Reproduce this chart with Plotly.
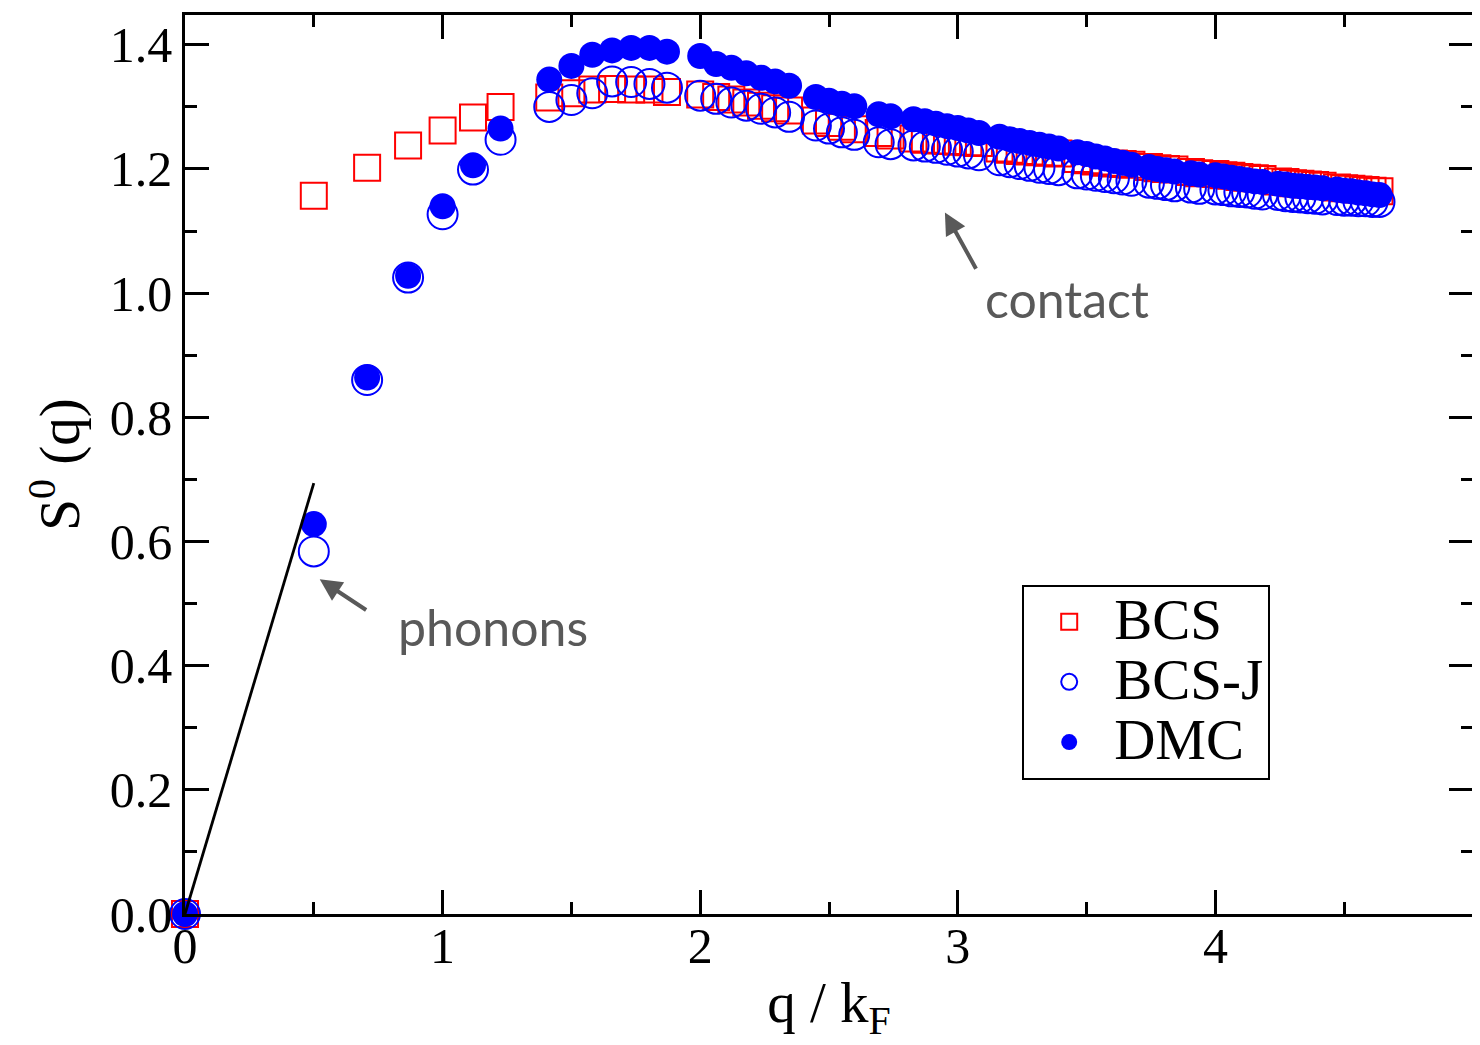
import plotly.graph_objects as go

# q / k_F values of the data points
q = [0.0, 0.5, 0.707, 0.866, 1.0, 1.118, 1.225, 1.414, 1.5, 1.581, 1.658, 1.732, 1.803, 1.871,
     2.0, 2.062, 2.121, 2.179, 2.236, 2.291, 2.345, 2.449, 2.5, 2.55, 2.598, 2.693, 2.739,
     2.828, 2.872, 2.915, 2.958, 3.0, 3.041, 3.082, 3.162, 3.202, 3.240, 3.279, 3.317, 3.354,
     3.391, 3.464, 3.5, 3.536, 3.571, 3.606, 3.640, 3.674, 3.742, 3.775, 3.808, 3.841, 3.905,
     3.937, 4.0, 4.031, 4.062, 4.093, 4.123, 4.153, 4.183, 4.243, 4.272, 4.301, 4.330, 4.359,
     4.387, 4.416, 4.472, 4.5, 4.528, 4.555, 4.583, 4.610, 4.637]

bcs = [0.0, 1.157, 1.202, 1.238, 1.262, 1.283, 1.300, 1.315, 1.322, 1.328, 1.329, 1.328, 1.328, 1.324,
       1.320, 1.316, 1.312, 1.307, 1.302, 1.298, 1.294, 1.278, 1.274, 1.268, 1.264, 1.258, 1.254,
       1.249, 1.247, 1.246, 1.245, 1.244, 1.243, 1.242, 1.233, 1.231, 1.229, 1.228, 1.227, 1.226,
       1.225, 1.216, 1.214, 1.212, 1.210, 1.209, 1.208, 1.207, 1.203, 1.201, 1.200, 1.199, 1.195,
       1.193, 1.192, 1.190, 1.189, 1.187, 1.186, 1.185, 1.184, 1.180, 1.179, 1.177, 1.176, 1.175,
       1.174, 1.173, 1.170, 1.169, 1.168, 1.167, 1.166, 1.165, 1.164]

bcs_j = [0.0, 0.584, 0.860, 1.025, 1.127, 1.199, 1.247, 1.300, 1.311, 1.322, 1.341, 1.340, 1.337, 1.331,
         1.318, 1.313, 1.307, 1.302, 1.297, 1.291, 1.284, 1.270, 1.265, 1.259, 1.255, 1.243, 1.240,
         1.238, 1.236, 1.234, 1.231, 1.228, 1.225, 1.222, 1.214, 1.211, 1.208, 1.205, 1.202, 1.200,
         1.198, 1.193, 1.191, 1.189, 1.187, 1.185, 1.183, 1.181, 1.178, 1.176, 1.174, 1.172, 1.170,
         1.168, 1.167, 1.166, 1.164, 1.163, 1.162, 1.160, 1.159, 1.158, 1.156, 1.155, 1.154, 1.153,
         1.152, 1.151, 1.150, 1.149, 1.149, 1.148, 1.148, 1.147, 1.147]

dmc = [0.0, 0.628, 0.864, 1.028, 1.140, 1.206, 1.265, 1.344, 1.366, 1.384, 1.391, 1.395, 1.395, 1.389,
       1.382, 1.369, 1.363, 1.354, 1.347, 1.341, 1.334, 1.316, 1.310, 1.305, 1.301, 1.288, 1.285,
       1.280, 1.277, 1.273, 1.269, 1.266, 1.262, 1.258, 1.252, 1.248, 1.245, 1.242, 1.239, 1.236,
       1.233, 1.227, 1.224, 1.220, 1.217, 1.213, 1.210, 1.207, 1.203, 1.200, 1.198, 1.196, 1.193,
       1.191, 1.190, 1.188, 1.186, 1.184, 1.182, 1.180, 1.179, 1.176, 1.175, 1.173, 1.172, 1.171,
       1.170, 1.169, 1.167, 1.165, 1.164, 1.162, 1.161, 1.159, 1.158]

# linear phonon line
phonon_q = [0.0, 0.5]
phonon_s = [0.0, 0.694]

series_names = ["BCS", "BCS-J", "DMC"]

serif = "Liberation Serif"


def legend_label(name):
    return f"<span style='font-size:57px'>{name}</span>"


fig = go.Figure()
fig.add_trace(go.Scatter(x=q, y=bcs, mode="markers", name=legend_label(series_names[0]), cliponaxis=False,
                         marker=dict(symbol="square-open", size=26, color="#ff0000",
                                     line=dict(width=2, color="#ff0000"))))
fig.add_trace(go.Scatter(x=q, y=bcs_j, mode="markers", name=legend_label(series_names[1]), cliponaxis=False,
                         marker=dict(symbol="circle-open", size=30, color="#0000ff",
                                     line=dict(width=2, color="#0000ff"))))
fig.add_trace(go.Scatter(x=q, y=dmc, mode="markers", name=legend_label(series_names[2]), cliponaxis=False,
                         marker=dict(symbol="circle", size=26, color="#0000ff",
                                     line=dict(width=0))))
fig.add_trace(go.Scatter(x=phonon_q, y=phonon_s, mode="lines", showlegend=False,
                         line=dict(color="black", width=2.8)))

axis_common = dict(showline=True, linecolor="black", linewidth=2.5, mirror="allticks",
                   ticks="inside", ticklen=24, tickwidth=2.5, tickcolor="black",
                   showgrid=False, zeroline=False,
                   tickfont=dict(family=serif, size=50, color="black"))

fig.update_xaxes(range=[0, 5], dtick=1, tick0=0, **axis_common, ticklabelstandoff=-14,
                 minor=dict(ticks="inside", ticklen=12, tickwidth=2.5, tickcolor="black", dtick=0.5),
                 title=dict(text="q / k<sub>F</sub>", font=dict(family=serif, size=57, color="black"),
                            standoff=10))
fig.update_yaxes(range=[0, 1.448], dtick=0.2, tick0=0, tickformat=".1f", **axis_common,
                 minor=dict(ticks="inside", ticklen=12, tickwidth=2.5, tickcolor="black", dtick=0.1),
                 title=dict(text="S<sup>0</sup> (q)", font=dict(family=serif, size=57, color="black"),
                            standoff=12))

gray = "#595959"
fig.add_annotation(x=0.523, y=0.539, ax=0.709, ay=0.488, xref="x", yref="y", axref="x", ayref="y",
                   text="", showarrow=True, arrowhead=2, arrowsize=1.1, arrowwidth=4, arrowcolor=gray)
fig.add_annotation(x=2.950, y=1.130, ax=3.074, ay=1.037, xref="x", yref="y", axref="x", ayref="y",
                   text="", showarrow=True, arrowhead=2, arrowsize=1.1, arrowwidth=4, arrowcolor=gray)
fig.add_annotation(x=1.194, y=0.462, xref="x", yref="y", text="phonons", showarrow=False,
                   font=dict(family="Lato", size=50, color=gray))
fig.add_annotation(x=3.422, y=0.990, xref="x", yref="y", text="contact", showarrow=False,
                   font=dict(family="Lato", size=50, color=gray))

fig.update_layout(
    width=1472, height=1037,
    margin=dict(l=177, r=5, t=4, b=131),
    paper_bgcolor="white", plot_bgcolor="white",
    legend=dict(x=0.650, y=0.258, xanchor="left", yanchor="middle",
                bordercolor="black", borderwidth=2, bgcolor="white",
                font=dict(family=serif, size=44, color="black"),
                itemsizing="trace", itemwidth=80, tracegroupgap=0),
    showlegend=True,
)

fig.write_html("out.html")
